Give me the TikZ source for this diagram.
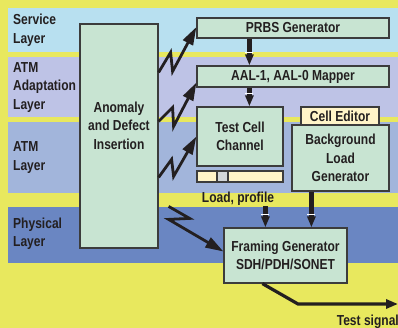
\documentclass[tikz,border=0pt]{standalone}
\usepackage{fontspec}
\setmainfont{Liberation Sans}[FakeStretch=0.83]
\usetikzlibrary{arrows.meta,calc}
\definecolor{yellowbg}{HTML}{E8E85E}
\definecolor{servicebg}{HTML}{B8E0F0}
\definecolor{adaptbg}{HTML}{BEC3E6}
\definecolor{atmbg}{HTML}{A2B5DB}
\definecolor{physbg}{HTML}{6A86C2}
\definecolor{boxfill}{HTML}{C8E4D2}
\definecolor{creamfill}{HTML}{FFF4C8}
\definecolor{thumbfill}{HTML}{D2D6D8}
\definecolor{border}{HTML}{3C3C3C}
\definecolor{ink}{HTML}{231F20}
\begin{document}
\begin{tikzpicture}[x=1pt,y=-1pt,
  txt/.style={font=\fontsize{14.5}{18.5}\selectfont\bfseries, text=ink, inner sep=0pt},
  box/.style={txt, draw=border, fill=boxfill, line width=1.2pt, align=center},
  creambox/.style={box, fill=creamfill},
  layerlabel/.style={txt, align=left, anchor=west},
  bolt/.style={draw=ink, line width=2.8pt, line join=miter, -{Triangle[length=18pt,width=11pt]}},
  bararrow/.style={draw=ink, line width=5.5pt, -{Triangle[length=11pt,width=8pt]}},
  gapline/.style={draw=white, line width=1pt},
  outarrow/.style={draw=ink, line width=3.2pt, line join=miter, -{Triangle[length=12pt,width=9pt]}}
]
\useasboundingbox (0,0) rectangle (398,328);
% background and layer bands
\fill[yellowbg] (0,0) rectangle (398,328);
\fill[servicebg] (8,8) rectangle (398,52);
\fill[adaptbg] (8,57) rectangle (398,117);
\fill[atmbg] (8,122) rectangle (398,193);
\fill[physbg] (8,207) rectangle (398,263);

% layer labels
\node[layerlabel] (lservice) at (13,30.5) {Service\\Layer};
\node[layerlabel] (ladapt) at (13,87.5) {ATM\\Adaptation\\Layer};
\node[layerlabel] (latm) at (13,157.5) {ATM\\Layer};
\node[layerlabel] (lphys) at (13,234) {Physical\\Layer};

% boxes
\node[box, minimum width=78pt, minimum height=224pt] (anomaly) at (119,136) {};
\node[txt, align=center] (anomalytext) at (119,125.5) {Anomaly\\and Defect\\Insertion};
\node[box, minimum width=192pt, minimum height=20pt] (prbs) at (293,28) {PRBS Generator};
\node[box, minimum width=192pt, minimum height=21pt] (aal) at (293,76.5) {AAL-1, AAL-0 Mapper};
\node[box, minimum width=86pt, minimum height=59pt] (tcc) at (240,136.5) {Test Cell\\Channel};
\node[box, minimum width=97pt, minimum height=66pt] (blg) at (340.5,158) {Background\\Load\\Generator};
\node[creambox, minimum width=78pt, minimum height=18pt] (celled) at (340,116) {Cell Editor};
\node[creambox, minimum width=86pt, minimum height=11pt] (slider) at (240,176.5) {};
\node[box, fill=thumbfill, minimum width=11pt, minimum height=11pt] (thumb) at (222.5,176.5) {};
\node[box, minimum width=123pt, minimum height=55pt] (framing) at (285.5,255.5) {Framing Generator\\SDH/PDH/SONET};
\node[txt, anchor=base] (loadtext) at (238,203) {Load, profile};
\node[txt, anchor=base east] (testsig) at (399,325.5) {Test signal};

% lightning arrows from anomaly insertion
\draw[bolt] ($(anomaly.north east)+(0,49)$) -- ++(12,-20) -- ++(2,19) -- ($(prbs.west)+(0,-1)$);
\draw[bolt] ($(anomaly.north east)+(0,98)$) -- ++(14,-14) -- ++(1,19) -- ($(aal.south west)+(0,-5)$);
\draw[bolt] ($(anomaly.north east)+(0,154)$) -- ++(13,-18) -- ++(2,17) -- (tcc.west);
\draw[bolt] ($(anomaly.north east)+(10,183)$) -- ++(21,12) -- ++(-21,1) -- ($(framing.west)+(0,-4)$);

% bar arrows
\coordinate (a1s) at ($(prbs.south west)+(53,0)$);
\coordinate (a1e) at ($(aal.north west)+(53,0)$);
\coordinate (a2s) at ($(aal.south west)+(53,0)$);
\coordinate (a2e) at ($(tcc.north west)+(53,0)$);
\coordinate (a3s) at ($(framing.north west)+(42,-21)$);
\coordinate (a3e) at ($(framing.north west)+(42,0)$);
\coordinate (a4s) at ($(blg.south west)+(20,0)$);
\coordinate (a4e) at ($(framing.north west)+(88,0)$);
\foreach \s/\e in {a1s/a1e, a2s/a2e, a3s/a3e, a4s/a4e}{
  \draw[bararrow] (\s) -- (\e);
  \draw[gapline] ($(\e)+(-4,-13)$) -- ($(\e)+(4,-13)$);
}

% output
\coordinate (outend) at (398,304);
\draw[outarrow] ($(framing.south west)+(39,0)$) -- (298,304) -- (outend);
\end{tikzpicture}
\end{document}
